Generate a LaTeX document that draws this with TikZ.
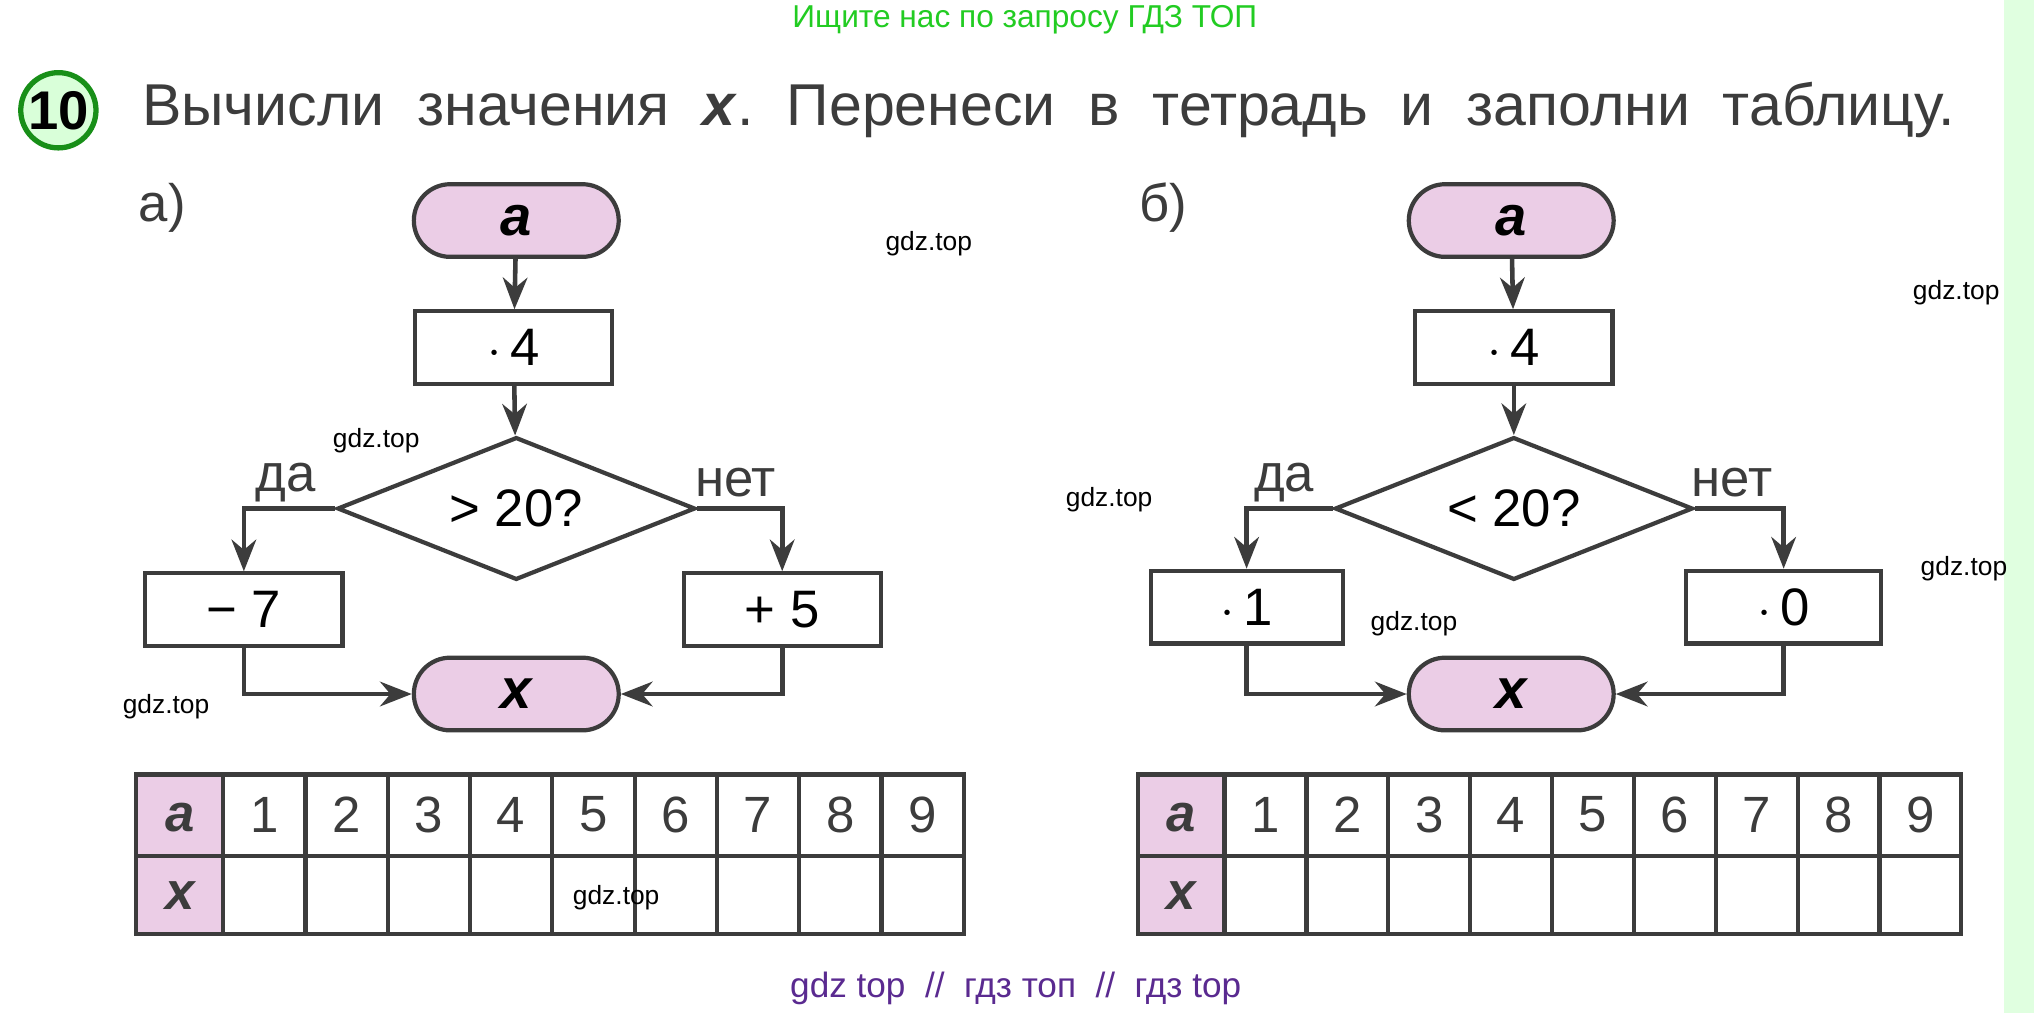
\documentclass[tikz,border=0pt]{standalone}
\usepackage{fontspec}
\setmainfont{Liberation Sans}
\usetikzlibrary{shapes.geometric,shapes.misc,arrows.meta}
\definecolor{pk}{HTML}{EBCDE6}
\definecolor{ln}{HTML}{3C3C3C}
\definecolor{gr}{HTML}{22CC22}
\definecolor{pu}{HTML}{5A2A90}
\begin{document}
\begin{tikzpicture}[x=0.01297cm,y=-0.01297cm,
 pill/.style={draw=ln,line width=1.2pt,fill=pk,rounded rectangle,minimum width=176*0.01297cm,minimum height=56*0.01297cm,font=\fontsize{16}{18}\selectfont\bfseries\itshape},
 box/.style={draw=ln,line width=1.2pt,minimum width=152*0.01297cm,minimum height=56*0.01297cm,font=\fontsize{15}{18}\selectfont},
 dia/.style={draw=ln,line width=1.2pt,diamond,aspect=2.5,minimum width=276*0.01297cm,minimum height=110*0.01297cm,inner sep=0pt,font=\fontsize{15}{18}\selectfont},
 arr/.style={draw=ln,line width=1.3pt,-{Stealth[length=9pt,width=7pt]}},
 lbl/.style={font=\fontsize{15}{18}\selectfont,text=ln},
 wm/.style={font=\fontsize{7.5}{9}\selectfont},
 cell/.style={font=\fontsize{14.5}{18}\selectfont,text=ln}]
\useasboundingbox (0,0) rectangle (1568,781);
\fill[white] (0,0) rectangle (1568,781);
\fill[green!12] (1545,0) rectangle (1568,781);
\node[text=gr,font=\fontsize{9}{11}\selectfont] (hd) at (790,15) {Ищите нас по запросу ГДЗ ТОП};
\node[circle,draw=gr!70!black,line width=1.5pt,fill=green!15,minimum size=58*0.01297cm,inner sep=0pt,font=\fontsize{15.5}{18}\selectfont\bfseries] (num) at (45,85) {10};
\node[anchor=west,text=ln,font=\fontsize{16.8}{20}\selectfont] (title) at (100,85) {Вычисли\ \ значения\ \ \textbf{\textit{x}}.\ \ Перенеси\ \ в\ \ тетрадь\ \ и\ \ заполни\ \ таблицу.};
% panel a
\node[lbl] (la) at (125,160) {а)};
\node[pill] (a1) at (398,170) {a};
\node[box] (m1) at (396,268) {$\cdot$\,4};
\node[dia] (d1) at (398,392) {> 20?};
\node[lbl] (y1) at (220,372) {да};
\node[lbl] (n1) at (567,372) {нет};
\node[box] (b1) at (188,470) {\textminus\ 7};
\node[box] (c1) at (603,470) {+ 5};
\node[pill] (x1) at (398,535) {x};
\draw[arr] (a1) -- (m1);
\draw[arr] (m1) -- (d1);
\draw[arr] (d1.west) -| (b1.north);
\draw[arr] (d1.east) -| (c1.north);
\draw[arr] (b1.south) |- (x1.west);
\draw[arr] (c1.south) |- (x1.east);
% panel b
\node[lbl] (lb) at (897,160) {б)};
\node[pill] (a2) at (1165,170) {a};
\node[box] (m2) at (1167,268) {$\cdot$\,4};
\node[dia] (d2) at (1167,392) {< 20?};
\node[lbl] (y2) at (990,372) {да};
\node[lbl] (n2) at (1335,372) {нет};
\node[box,minimum width=148*0.01297cm] (b2) at (961,468) {$\cdot$\,1};
\node[box,minimum width=150*0.01297cm] (c2) at (1375,468) {$\cdot$\,0};
\node[pill] (x2) at (1165,535) {x};
\draw[arr] (a2) -- (m2);
\draw[arr] (m2) -- (d2);
\draw[arr] (d2.west) -| (b2.north);
\draw[arr] (d2.east) -| (c2.north);
\draw[arr] (b2.south) |- (x2.west);
\draw[arr] (c2.south) |- (x2.east);
% tables
\foreach \x/\w [count=\t] in {105/638,877/635}{
 \pgfmathsetmacro{\cw}{(\w-67)/9}
 \fill[pk] (\x,597) rectangle (\x+67,720);
 \draw[ln,line width=1.2pt] (\x,597) rectangle (\x+\w,720);
 \draw[ln,line width=1.2pt] (\x,660) -- (\x+\w,660);
 \draw[ln,line width=1.2pt] (\x+67,597) -- (\x+67,720);
 \foreach \i in {1,...,8} \draw[ln,line width=1.2pt] (\x+67+\i*\cw,597) -- (\x+67+\i*\cw,720);
 \node[cell,font=\fontsize{15}{18}\selectfont\bfseries\itshape] (ta\t) at (\x+33.5,630) {a};
 \node[cell,font=\fontsize{15}{18}\selectfont\bfseries\itshape] (tx\t) at (\x+33.5,690) {x};
 \foreach \i in {1,...,9} \node[cell] (t\t\i) at (\x+67+\i*\cw-\cw/2,628) {\i};
}
% watermarks
\node[wm] (w1) at (716,188) {gdz.top};
\node[wm] (w2) at (290,340) {gdz.top};
\node[wm] (w3) at (128,545) {gdz.top};
\node[wm] (w4) at (475,692) {gdz.top};
\node[wm] (w5) at (855,385) {gdz.top};
\node[wm] (w6) at (1090,481) {gdz.top};
\node[wm] (w7) at (1508,226) {gdz.top};
\node[wm] (w8) at (1514,438) {gdz.top};
\node[text=pu,font=\fontsize{10}{12}\selectfont] (ft) at (783,762) {gdz top \ // \ гдз топ \ // \ гдз top};
\end{tikzpicture}
\end{document}
